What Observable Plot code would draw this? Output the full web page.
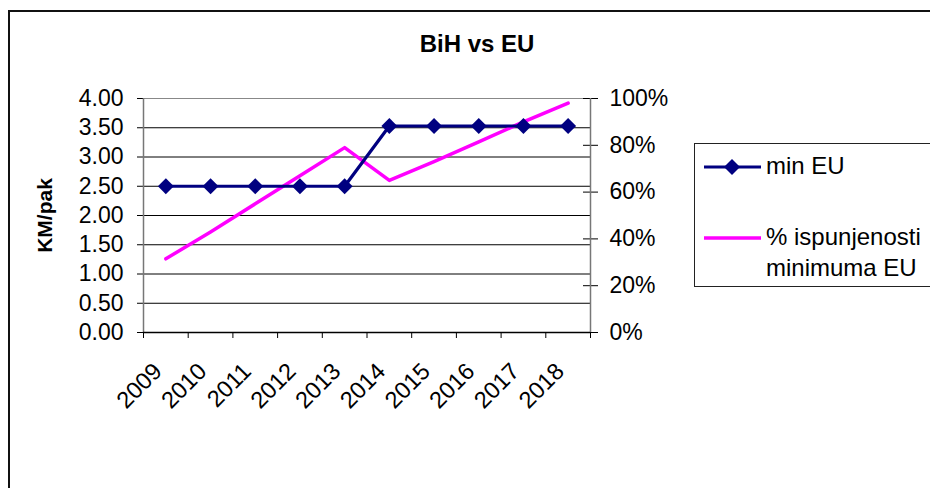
<!DOCTYPE html>
<html>
<head>
<meta charset="utf-8">
<script src="https://cdn.jsdelivr.net/npm/d3@7"></script>
<script src="https://cdn.jsdelivr.net/npm/@observablehq/plot@0.6"></script>
<style>
  html, body { margin: 0; padding: 0; background: #fff; }
  body { width: 930px; height: 488px; overflow: hidden; font-family: "Liberation Sans", Arial, sans-serif; }
  #wrap { position: relative; width: 930px; height: 488px; overflow: hidden; }
  #frame { position: absolute; left: 8px; top: 10px; width: 1000px; height: 600px; border: 2px solid #111; box-sizing: border-box; }
  #title { position: absolute; left: 377px; width: 200px; top: 30px; text-align: center; font-weight: bold; font-size: 24px; line-height: 28px; }
  #legend { position: absolute; left: 694px; top: 143px; width: 300px; height: 144px; border: 1px solid #222; box-sizing: border-box; background: #fff; }
  .lg-text { position: absolute; left: 71px; font-size: 24px; line-height: 31px; white-space: nowrap; }
  #chart svg [aria-label="y-axis label"] text { font-weight: bold; font-size: 21px; }
</style>
</head>
<body>
<div id="wrap">
  <div id="frame"></div>
  <div id="chart"></div>
  <div id="title">BiH vs EU</div>
  <div id="legend"></div>
</div>
<script>
// ---- data ----
const years = ["2009", "2010", "2011", "2012", "2013", "2014", "2015", "2016", "2017", "2018"];
const minEU = [2.5, 2.5, 2.5, 2.5, 2.5, 3.53, 3.53, 3.53, 3.53, 3.53];
const pctFulfilled = [31.5, 43, 55, 67, 79, 65, 73, 81.5, 90, 98];
const leftTicks = [0, 0.5, 1, 1.5, 2, 2.5, 3, 3.5, 4];
const rightTickLabels = ["0%", "20%", "40%", "60%", "80%", "100%"];
const seriesNames = ["min EU", "% ispunjenosti minimuma EU"];
const colors = ["#000080", "#FF00FF"];

// rows built from the arrays; x is the category index (centre of its slot)
const rows = years.map((y, i) => ({i, year: y, minEU: minEU[i], pct: pctFulfilled[i]}));
const pctToY = p => p / 25; // 100% aligns with 4.00 on the KM axis
const rightTicks = rightTickLabels.map(s => pctToY(parseFloat(s)));

const chart = Plot.plot({
  width: 930,
  height: 488,
  marginLeft: 143,
  marginRight: 340,
  marginTop: 98,
  marginBottom: 156,
  style: {fontFamily: "'Liberation Sans', Arial, sans-serif", fontSize: "23px", color: "#000", background: "transparent"},
  x: {domain: [0, years.length], axis: null},
  y: {domain: [0, 4], axis: null},
  marks: [
    // horizontal gridlines
    Plot.ruleY(leftTicks.filter(t => t > 0 && t < 4), {stroke: "#000", strokeWidth: 1}),
    Plot.ruleY([4], {stroke: "#888", strokeWidth: 1}),
    // left axis
    Plot.axisY({
      anchor: "left", ticks: leftTicks, tickFormat: d3.format(".2f"),
      tickSize: 6, tickPadding: 14, stroke: "#000",
      label: "KM/pak", labelAnchor: "center", labelArrow: "none", labelOffset: 106
    }),
    Plot.ruleX([0], {stroke: "#777", strokeWidth: 1.5}),
    // right axis (percent), ticks crossing the axis line
    Plot.axisY({
      anchor: "right", ticks: rightTicks, tickFormat: (d, i) => rightTickLabels[i],
      tickSize: 7, tickPadding: 12, label: null, stroke: "#000"
    }),
    Plot.axisY({
      anchor: "right", ticks: rightTicks, tickFormat: () => "",
      tickSize: 8, dx: -8, label: null, stroke: "#000"
    }),
    Plot.ruleX([years.length], {stroke: "#777", strokeWidth: 1.5}),
    // bottom axis with ticks between categories
    Plot.axisX({anchor: "bottom", ticks: d3.range(years.length + 1), tickFormat: () => "", tickSize: 6, stroke: "#000", label: null}),
    Plot.ruleY([0], {stroke: "#000", strokeWidth: 1.5}),
    Plot.text(rows, {
      x: d => d.i + 0.5, text: "year", frameAnchor: "bottom",
      rotate: -45, textAnchor: "end", lineAnchor: "middle",
      dx: -8, dy: 35, fontSize: 23.5, fill: "#000"
    }),
    // series
    Plot.line(rows, {x: d => d.i + 0.5, y: d => pctToY(d.pct), stroke: colors[1], strokeWidth: 3.5}),
    Plot.line(rows, {x: d => d.i + 0.5, y: "minEU", stroke: colors[0], strokeWidth: 3.2}),
    Plot.dot(rows, {x: d => d.i + 0.5, y: "minEU", symbol: "diamond2", r: 7.2, fill: colors[0], stroke: "none"})
  ]
});
document.getElementById("chart").appendChild(chart);

// legend
const legend = document.getElementById("legend");
const ns = "http://www.w3.org/2000/svg";
function swatch(color, withMarker, top) {
  const svg = document.createElementNS(ns, "svg");
  svg.setAttribute("width", 70); svg.setAttribute("height", 20);
  svg.style.position = "absolute"; svg.style.left = "8px"; svg.style.top = top + "px";
  const l = document.createElementNS(ns, "line");
  l.setAttribute("x1", 1); l.setAttribute("x2", 58); l.setAttribute("y1", 10); l.setAttribute("y2", 10);
  l.setAttribute("stroke", color); l.setAttribute("stroke-width", withMarker ? 3 : 3.5);
  svg.appendChild(l);
  if (withMarker) {
    const p = document.createElementNS(ns, "path");
    p.setAttribute("d", "M29,2L37,10L29,18L21,10Z");
    p.setAttribute("fill", color);
    svg.appendChild(p);
  }
  legend.appendChild(svg);
}
swatch(colors[0], true, 13);
swatch(colors[1], false, 84);
const t1 = document.createElement("div");
t1.className = "lg-text"; t1.style.top = "6px"; t1.textContent = seriesNames[0];
legend.appendChild(t1);
const t2 = document.createElement("div");
t2.className = "lg-text"; t2.style.top = "77px";
t2.innerHTML = "% ispunjenosti<br>minimuma EU";
legend.appendChild(t2);
</script>
</body>
</html>
